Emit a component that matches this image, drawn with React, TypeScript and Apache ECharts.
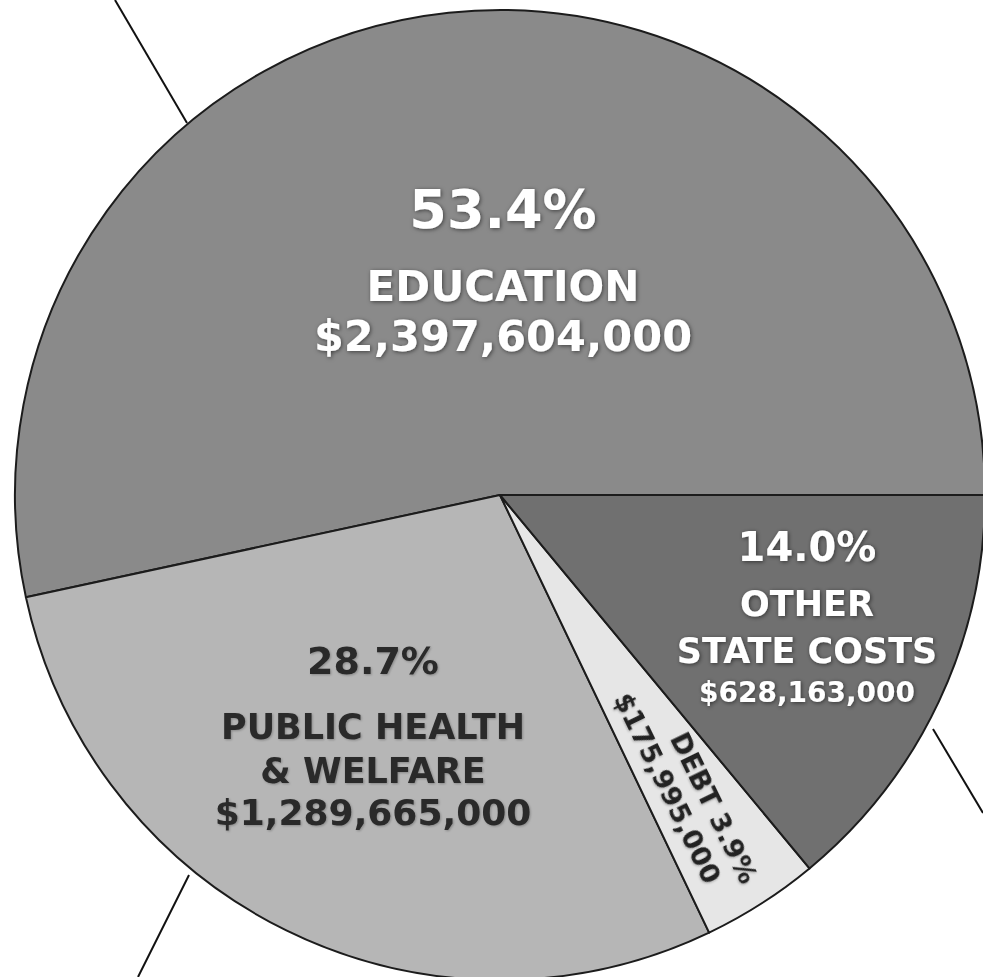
import React, { useEffect, useRef } from 'react';
import * as echarts from 'echarts';

// ---- data ----
const categories = ['EDUCATION', 'PUBLIC HEALTH\n& WELFARE', 'DEBT', 'OTHER\nSTATE COSTS'];
const amounts = [2397604000, 1289665000, 175995000, 628163000];
const percents = ['53.4%', '28.7%', '3.9%', '14.0%'];

// ---- styles / layout ----
const sliceColors = ['#8a8a8a', '#b6b6b6', '#e6e6e6', '#707070'];
const labelColors = ['#ffffff', '#2a2a2a', '#222222', '#ffffff'];
const labelPos: [number, number][] = [[503, 259], [373, 724], [686, 788], [807, 612]];
const labelRot = [0, 0, -64, 0];
const FONT = 'DejaVu Sans';

const fmtAmt = (v: number) => '$' + v.toLocaleString('en-US');

function richFor(i: number) {
  const c = labelColors[i];
  const base = { fontFamily: FONT, fontWeight: 'bold' as const, color: c };
  const shadow = c === '#ffffff'
    ? { textShadowColor: 'rgba(0,0,0,0.55)', textShadowBlur: 4, textShadowOffsetX: 1, textShadowOffsetY: 1 }
    : { textShadowColor: 'rgba(0,0,0,0.25)', textShadowBlur: 2, textShadowOffsetX: 1, textShadowOffsetY: 1 };
  if (i === 0) {
    return {
      pct: { ...base, ...shadow, fontSize: 54, lineHeight: 104 },
      name: { ...base, ...shadow, fontSize: 42, lineHeight: 50 },
      amt: { ...base, ...shadow, fontSize: 43, lineHeight: 50 },
    };
  }
  if (i === 1) {
    return {
      pct: { ...base, ...shadow, fontSize: 38, lineHeight: 88 },
      name: { ...base, ...shadow, fontSize: 35, lineHeight: 44 },
      amt: { ...base, ...shadow, fontSize: 36, lineHeight: 38 },
    };
  }
  if (i === 2) {
    return {
      name: { ...base, ...shadow, fontSize: 27, lineHeight: 33, align: 'right' },
      amt: { ...base, ...shadow, fontSize: 27, lineHeight: 33, align: 'right', padding: [0, 16, 0, 0] },
    };
  }
  return {
    pct: { ...base, ...shadow, fontSize: 40, lineHeight: 67 },
    name: { ...base, ...shadow, fontSize: 35, lineHeight: 47 },
    amt: { ...base, ...shadow, fontSize: 28, lineHeight: 37 },
  };
}

function formatterFor(i: number) {
  const nameLines = categories[i].split('\n');
  if (i === 2) {
    return `{name|${nameLines[0]} ${percents[i]}}\n{amt|${fmtAmt(amounts[i])}}`;
  }
  return [`{pct|${percents[i]}}`, ...nameLines.map((l) => `{name|${l}}`), `{amt|${fmtAmt(amounts[i])}}`].join('\n');
}

export default function App() {
  const ref = useRef<HTMLDivElement>(null);
  useEffect(() => {
    document.body.style.margin = '0';
    const chart = echarts.init(ref.current!, null, { renderer: 'svg' });
    const data = categories.map((name, i) => ({
      name,
      value: amounts[i],
      itemStyle: { color: sliceColors[i] },
      label: {
        show: true,
        position: 'inside',
        formatter: formatterFor(i),
        rich: richFor(i),
        align: 'center',
        verticalAlign: 'middle',
      },
    }));
    chart.setOption({
      animation: false,
      backgroundColor: '#ffffff',
      series: [
        {
          type: 'pie',
          center: [500, 495],
          radius: 485,
          startAngle: 0,
          clockwise: false,
          avoidLabelOverlap: false,
          silent: true,
          itemStyle: { borderColor: '#1c1c1c', borderWidth: 2 },
          labelLine: { show: false },
          data,
          labelLayout: (params: any) => ({
            x: labelPos[params.dataIndex][0],
            y: labelPos[params.dataIndex][1],
            rotate: labelRot[params.dataIndex],
            align: 'center',
            verticalAlign: 'middle',
          }),
        },
      ],
      graphic: [
        { type: 'line', shape: { x1: 115, y1: 0, x2: 187, y2: 123 }, style: { stroke: '#111', lineWidth: 2 }, silent: true },
        { type: 'line', shape: { x1: 189, y1: 875, x2: 138, y2: 977 }, style: { stroke: '#111', lineWidth: 2 }, silent: true },
        { type: 'line', shape: { x1: 933, y1: 729, x2: 983, y2: 813 }, style: { stroke: '#111', lineWidth: 2 }, silent: true },
      ],
    });
    return () => chart.dispose();
  }, []);
  return <div ref={ref} style={{ position: 'absolute', left: 0, top: 0, width: 983, height: 977 }} />;
}
